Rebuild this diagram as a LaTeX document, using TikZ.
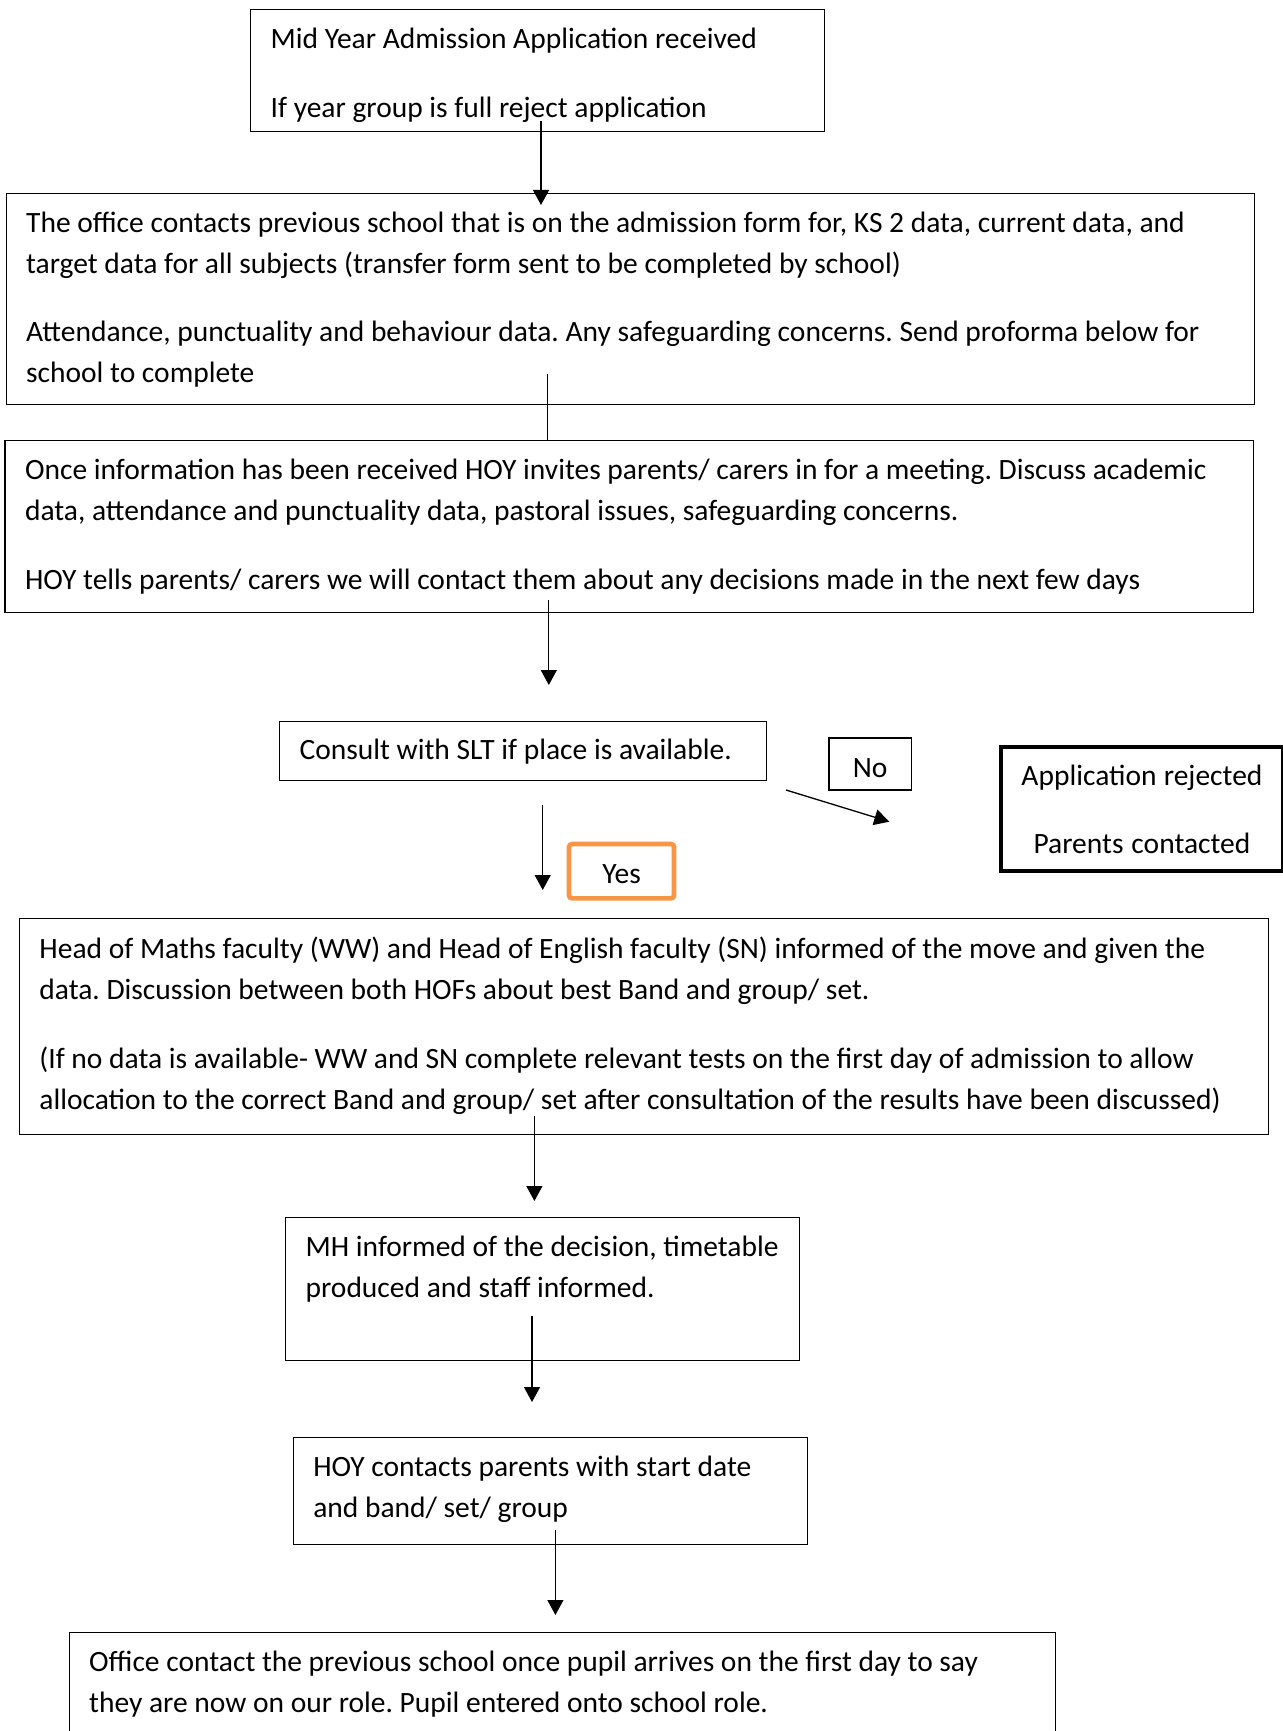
\documentclass[tikz,border=0pt]{standalone}
\usepackage{fontspec}
\setmainfont{Carlito}
\usepackage{xcolor}
\usetikzlibrary{arrows.meta}
\definecolor{yesorange}{RGB}{247,150,70}
\frenchspacing
\hyphenpenalty=10000
\exhyphenpenalty=10000
\newcommand\topgap[1]{\rule{0pt}{#1}}
\newcommand\botgap[1]{\rule[-#1]{0pt}{0pt}}

\begin{document}
\begin{tikzpicture}[x=1pt,y=-1pt,
  font=\fontsize{29.5}{41}\selectfont,
  execute at begin node={\spaceskip=0pt\xspaceskip=0pt\strut},execute at end node=\strut,
  box/.style={draw,line width=1.3pt,anchor=north west,align=left,inner xsep=20pt,inner ysep=0pt},
  arr/.style={line width=1.3pt,-{Triangle[length=15pt,width=16pt]}}]
\useasboundingbox (0,0) rectangle (1282,1731);
\node[box,text width=534pt,minimum height=122pt] (app) at (250,9) {\topgap{37.5pt}Mid Year Admission Application received\\[27.5pt]If year group is full reject application};
\node[box,text width=1208.5pt,minimum height=211pt] (office) at (5.5,193) {The office contacts previous school that is on the admission form for, KS 2 data, current data, and\\ target data for all subjects (transfer form sent to be completed by school)\\[27.5pt]Attendance, punctuality and behaviour data. Any safeguarding concerns. Send proforma below for\\ school to complete};
\node[box,text width=1208.6pt,minimum height=172pt] (meeting) at (4.4,439.5) {Once information has been received HOY invites parents/ carers in for a meeting. Discuss academic\\ data, attendance and punctuality data, pastoral issues, safeguarding concerns.\\[27.5pt]HOY tells parents/ carers we will contact them about any decisions made in the next few days};
\node[box,text width=447pt,minimum height=58.6pt] (slt) at (279,721) {Consult with SLT if place is available.};
\node[box,align=center,inner xsep=10pt,text width=62.4pt,minimum height=52pt] (no) at (828.3,737.3) {\topgap{38.5pt}No};
\node[box,align=center,line width=4pt,inner xsep=10pt,text width=262.5pt,minimum height=124pt] (rejected) at (998.7,744.7) {\topgap{34pt}Application rejected\\[27.5pt]Parents contacted};
\node[box,align=center,draw=yesorange,line width=4.7pt,rounded corners=3pt,inner xsep=10pt,text width=85pt,minimum height=54.3pt] (yes) at (566.7,841.7) {\topgap{36.5pt}Yes};
\node[box,text width=1208.8pt,minimum height=216pt] (faculty) at (18.8,918) {Head of Maths faculty (WW) and Head of English faculty (SN) informed of the move and given the\\ data. Discussion between both HOFs about best Band and group/ set.\\[27.5pt](If no data is available- WW and SN complete relevant tests on the first day of admission to allow\\ allocation to the correct Band and group/ set after consultation of the results have been discussed)\botgap{14pt}};
\node[box,text width=474pt,minimum height=143pt] (mh) at (285,1217) {\mbox{MH informed of the decision, timetable}\\ produced and staff informed.\\ };
\node[box,text width=474.4pt,minimum height=107pt] (parents) at (292.6,1436.6) {HOY contacts parents with start date\\ and band/ set/ group\botgap{16.5pt}};
\node[box,text width=946pt,minimum height=107pt] (arrival) at (68.5,1632) {Office contact the previous school once pupil arrives on the first day to say\\ they are now on our role. Pupil entered onto school role.\botgap{16.5pt}};

\coordinate (appout) at (541,121);
\coordinate (officein) at (541,205);
\coordinate (officeout) at (547.7,374);
\coordinate (meetingin) at (547.7,439.5);
\coordinate (meetingout) at (548.8,600);
\coordinate (sltin) at (548.8,685);
\coordinate (noout) at (786,790);
\coordinate (noin) at (889.3,821.7);
\coordinate (yesout) at (542.7,805);
\coordinate (facultyin) at (542.7,890);
\coordinate (facultyout) at (534.4,1116);
\coordinate (mhin) at (534.4,1201);
\coordinate (mhout) at (532,1316);
\coordinate (parentsin) at (532,1402);
\coordinate (parentsout) at (555.4,1530);
\coordinate (arrivalin) at (555.4,1615);

\draw[arr] (appout) -- (officein);
\draw[line width=1.3pt] (officeout) -- (meetingin);
\draw[arr] (meetingout) -- (sltin);
\draw[arr] (noout) -- (noin);
\draw[arr] (yesout) -- (facultyin);
\draw[arr] (facultyout) -- (mhin);
\draw[arr] (mhout) -- (parentsin);
\draw[arr] (parentsout) -- (arrivalin);
\end{tikzpicture}
\end{document}
